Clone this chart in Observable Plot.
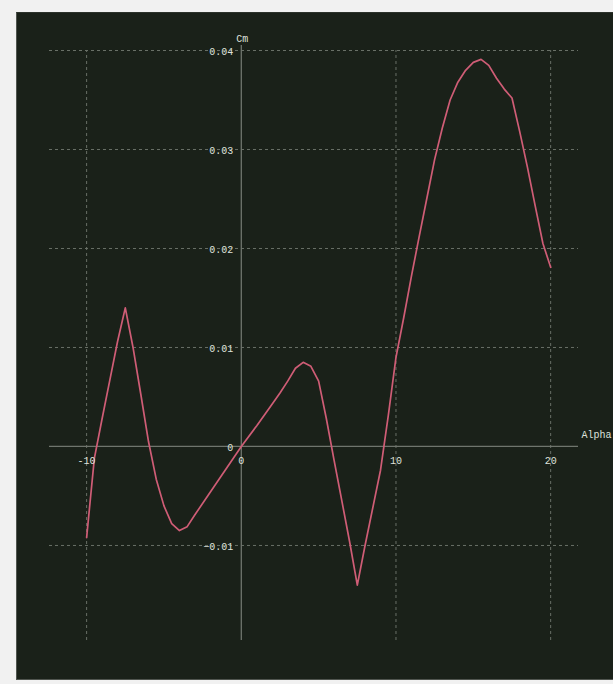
<!DOCTYPE html>
<html>
<head>
<meta charset="utf-8">
<script src="https://cdn.jsdelivr.net/npm/d3@7"></script>
<script src="https://cdn.jsdelivr.net/npm/@observablehq/plot@0.6"></script>
<style>
  html, body { margin: 0; padding: 0; background: #f1f1f1; }
  #wrap { position: relative; width: 613px; height: 684px; overflow: hidden; }
  #panel { position: absolute; left: 16px; top: 12px; width: 620px; height: 666px;
           background: #1a2119; border-left: 1px solid #50554f; border-bottom: 1px solid #50554f;
           border-top: 1px solid #2c322b; }
  #chart { position: absolute; left: 0; top: 0; }
  #chart svg { background: transparent; }
</style>
</head>
<body>
<div id="wrap"><div id="panel"></div><div id="chart"></div></div>
<script>
// Pitching-moment coefficient Cm versus angle of attack Alpha (deg)
const alpha = [-10, -9.5, -9, -8.5, -8, -7.5, -7, -6.5, -6, -5.5, -5, -4.5, -4, -3.5, -3, -2, -1, 0,
  1, 2, 2.5, 3, 3.5, 4, 4.5, 5, 5.5, 6, 6.5, 7, 7.5, 8, 8.5, 9, 9.5, 10, 10.5, 11, 11.5, 12, 12.5,
  13, 13.5, 14, 14.5, 15, 15.5, 16, 16.5, 17, 17.5, 18, 18.5, 19, 19.5, 20];
const cm = [-0.0092, -0.0012, 0.0028, 0.0067, 0.0106, 0.0140, 0.0100, 0.0053, 0.0005, -0.0033, -0.0060, -0.0078, -0.0085, -0.0081, -0.0069, -0.0046, -0.0023, 0.0000,
  0.0021, 0.0043, 0.0054, 0.0066, 0.0079, 0.0085, 0.0081, 0.0066, 0.0028, -0.0014, -0.0055, -0.0096, -0.0140, -0.0100, -0.0062, -0.0024, 0.0031, 0.0090, 0.0130, 0.0172, 0.0212, 0.0251, 0.0290,
  0.0322, 0.0350, 0.0368, 0.0380, 0.0388, 0.0391, 0.0385, 0.0372, 0.0361, 0.0352, 0.0318, 0.0282, 0.0243, 0.0205, 0.0181];

const xTicks = [-10, 0, 10, 20];
const yTicks = [-0.01, 0, 0.01, 0.02, 0.03, 0.04];
const xExtent = [-12.4, 21.8];
const yExtent = [-0.0196, 0.04];
const yAxisTop = 0.0405;

const data = alpha.map((a, i) => ({alpha: a, cm: cm[i]}));
const fmtY = d => d === 0 ? "0" : d3.format(".2f")(d);

const grid = "#697067";
const axisCol = "#6f756d";
const textCol = "#dfe1dc";
const font = "Liberation Mono, DejaVu Sans Mono, monospace";

const chart = Plot.plot({
  width: 613,
  height: 684,
  marginLeft: 49,
  marginRight: 35,
  marginTop: 50,
  marginBottom: 44,
  style: {background: "transparent", fontFamily: font, fontSize: "10px", color: textCol},
  x: {domain: xExtent, axis: null},
  y: {domain: yExtent, axis: null},
  marks: [
    // dashed grid
    Plot.ruleY(yTicks.filter(d => d !== 0), {x1: xExtent[0], x2: xExtent[1], stroke: grid, strokeDasharray: "3,3", strokeWidth: 1}),
    Plot.ruleX(xTicks.filter(d => d !== 0), {y1: yExtent[0], y2: yExtent[1], stroke: grid, strokeDasharray: "3,3", strokeWidth: 1}),
    // axes through the origin
    Plot.ruleY([0], {x1: xExtent[0], x2: xExtent[1], stroke: axisCol, strokeWidth: 1.3}),
    Plot.ruleX([0], {y1: yExtent[0], y2: yAxisTop, stroke: axisCol, strokeWidth: 1.3}),
    // curve
    Plot.line(data, {x: "alpha", y: "cm", stroke: "#cf5d76", strokeWidth: 1.7, curve: "linear"}),
    // tick labels
    Plot.text(xTicks, {x: d => d, y: 0, text: d => String(d), dy: 14, fill: textCol, fontSize: 10}),
    Plot.text(yTicks, {x: 0, y: d => d, text: fmtY, dx: -8, dy: 1, textAnchor: "end", fill: textCol, fontSize: 10}),
    // axis titles
    Plot.text(["Cm"], {x: 0, y: yAxisTop, dx: -5, dy: -7, textAnchor: "start", fill: textCol, fontSize: 10}),
    Plot.text(["Alpha"], {x: xExtent[1], y: 0, dx: 3, dy: -12, textAnchor: "start", fill: textCol, fontSize: 10})
  ]
});
document.getElementById("chart").appendChild(chart);
</script>
</body>
</html>
